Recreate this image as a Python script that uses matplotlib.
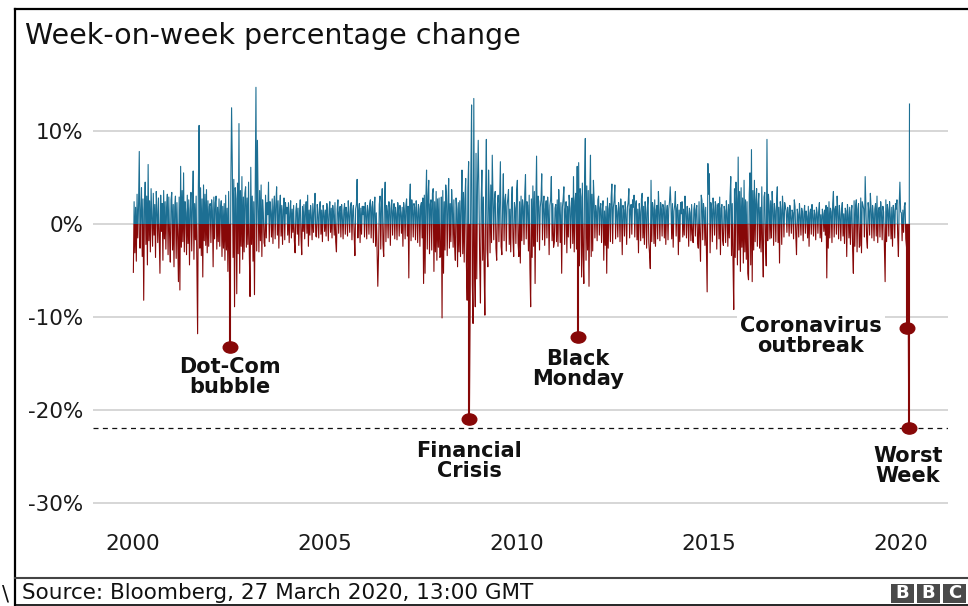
import matplotlib
matplotlib.use("Agg")
import matplotlib.pyplot as plt
from matplotlib.patches import Rectangle
from matplotlib.path import Path
import matplotlib.transforms as mtransforms
from matplotlib.lines import Line2D

plt.rcParams['font.family'] = ['DejaVu Sans']

# ---------------- data (weekly % change) ----------------
y2000 = [-5.2, 2.4, -3.1, 1.8, -4.0, 3.2, -1.5, 2.0, 7.8, -2.6, 1.2, 3.9, -3.5, 2.7, -8.2, 1.5, 4.5, -2.2, 3.0, -4.4, 6.4, -1.8, 2.5, -3.0, 3.8, 0.9, -2.4, 3.3, -1.2, 2.1, -3.6, 3.5, 1.4, -2.0, 2.8, -1.3, -5.3, 3.1, -0.8, 2.2, -3.9, 3.6, -1.6, 2.4, -2.7, 1.7, 3.2, -3.3, 2.9, -1.1, -4.1, 2.6]
y2001 = [3.4, -2.8, 2.1, -4.6, 1.9, 3.0, -3.7, 2.3, -1.4, -6.2, 2.9, -7.1, 6.2, -2.5, 3.6, -1.9, 5.5, -3.0, 2.4, 1.2, -3.3, 3.1, -2.1, 2.6, -4.4, 1.5, 3.4, -2.9, 2.0, 5.7, -3.8, 2.2, -1.7, 3.0, -5.0, -11.8, 4.1, 10.6, -2.6, 3.9, -3.4, 2.7, -5.7, 4.2, -1.8, 3.2, -2.3, 3.7, -3.1, 2.5, -2.4, 1.9]
y2002 = [2.2, -2.0, 2.6, 1.4, -4.6, 2.9, -1.6, 2.3, 3.0, -2.7, 1.8, -1.9, 2.7, -2.4, 1.6, 2.5, -3.5, 1.9, -2.6, 2.2, -3.9, 3.1, -2.8, 1.7, -5.1, 3.5, -4.0, -13.2, 4.3, 12.5, 6.2, -3.6, 4.8, -8.9, 3.9, 2.7, -7.5, 4.4, -3.2, 10.8, -5.3, 3.6, -2.4, 5.1, -3.8, 2.9, -3.0, 3.3, 4.0, -2.5, 2.8, -2.2]
y2003 = [4.5, -3.1, -7.8, 6.1, -2.2, 3.0, -4.0, 2.4, -7.6, 3.3, 14.7, -2.9, 9.0, 2.1, -3.0, 3.6, -1.8, 4.2, -3.5, 2.6, 1.2, -2.0, -2.4, 3.1, -1.5, 2.3, 1.0, 4.5, -1.9, 2.4, 1.3, -1.4, 2.7, -2.1, 1.8, 3.0, -1.6, 2.2, 4.0, -1.2, 2.5, -2.6, 1.7, 3.1, -1.3, 2.0, -2.2, 1.5, 2.8, -1.7, 2.3, 1.1]
y2004 = [1.8, -1.2, 2.3, -2.0, 1.1, 2.5, -1.5, 1.6, -0.9, 2.0, -1.8, -3.1, 1.4, 2.2, -1.1, 1.7, -2.3, 1.2, 2.6, -1.4, -3.3, 1.9, -0.8, 2.1, -1.6, 1.3, 2.4, -1.0, 3.1, -2.4, 1.5, -1.2, 2.0, 0.9, -1.7, 2.2, -0.9, 1.6, 3.3, -1.3, -1.4, 2.1, 1.0, -1.5, 1.8, 2.4, -1.1, 1.5, -1.9, 2.0, 1.2, -0.8]
y2005 = [1.5, -1.3, 2.2, 1.0, -1.8, 1.4, 2.4, -0.9, 1.7, -1.5, 2.0, 1.1, -1.2, 2.3, -1.9, -3.0, 1.6, 2.6, -1.0, 1.3, 1.9, -1.4, 2.1, 0.8, -1.6, 1.5, 2.2, -1.1, 1.8, 1.2, -1.3, 2.5, 1.0, -0.9, 1.9, 2.3, -1.7, 1.4, 2.0, -1.2, -3.4, 1.6, 2.1, 4.8, -1.5, 1.3, 2.2, -2.0, 1.7, -1.1, 1.9, 1.0]
y2006 = [1.9, -1.4, 2.3, 1.2, -1.6, 2.0, 1.4, -1.1, 2.2, 2.6, -1.5, 1.8, 2.4, -2.0, 1.6, 2.9, -2.4, 1.2, -3.0, -6.7, -3.3, 2.1, 3.0, -2.7, 1.8, 3.8, -2.2, -3.5, 2.5, 4.5, -1.9, 2.0, 1.3, -1.5, 2.4, 1.7, -2.3, 1.9, 2.6, -1.2, 1.4, 2.2, -1.6, 1.8, 1.1, -1.7, 2.3, 1.5, -1.3, 2.0, 1.2, -1.0]
y2007 = [1.8, -2.4, 2.3, 1.4, -1.6, 2.0, 2.7, -1.3, 1.9, -5.8, 2.4, 4.3, -1.8, 2.6, 1.5, -1.4, 2.2, 1.8, -1.7, 2.5, 1.2, -2.0, 2.1, 1.6, -2.4, 1.9, 2.3, -1.5, 2.8, -6.4, 3.1, -5.3, 2.4, 5.8, -2.7, 3.0, 4.7, -3.2, 2.1, 2.6, -2.8, 3.3, 3.8, -5.1, 2.4, -3.0, 3.5, -3.9, 2.7, -2.5, 2.8, -3.6]
y2008 = [-3.5, 2.9, -10.1, 3.6, -5.3, 2.4, -2.8, 4.2, 3.1, -3.4, 2.0, 4.9, -2.6, 2.2, -1.9, 3.7, 1.8, -2.5, 2.6, -2.1, -3.9, 2.8, 1.6, -4.6, 2.3, -3.0, 2.5, -3.5, 2.0, 5.8, -3.2, 3.4, -4.1, 2.7, 4.9, -4.4, -8.2, 3.9, 6.7, -21.0, -9.9, 5.2, 12.8, -6.5, -10.7, 13.5, -4.8, -8.9, 7.6, -5.9, 4.4, 9.0]
y2009 = [3.1, -4.2, -8.5, 2.6, 5.8, -3.9, 2.9, -5.1, -9.8, 3.4, 9.1, -2.7, -4.6, 5.8, 2.4, -3.1, 4.2, -2.0, 7.4, 3.0, -1.7, 2.8, 3.5, -2.6, -3.9, 2.2, 3.1, -1.9, 2.6, 6.7, -2.4, -3.3, 2.0, 5.4, -1.8, 2.5, 3.2, -2.9, 1.9, 2.7, 3.7, -2.2, 1.6, -3.0, 2.4, 4.0, -1.5, -3.5, 2.3, 1.7, -2.1, 3.7]
y2010 = [4.7, -2.1, -3.5, 2.4, -4.2, 3.0, -1.8, 2.6, 1.9, -2.2, 3.3, 5.3, -1.6, 2.4, 2.0, -2.9, 3.1, -4.8, -8.9, 2.7, -3.6, 4.1, -2.4, 3.5, -6.4, 2.2, 7.3, -1.9, 3.0, 2.4, -2.8, 1.8, 2.6, 5.4, -1.7, 2.1, 3.0, -2.3, 1.6, 2.5, -1.5, 2.9, 1.4, -3.3, 2.0, 2.6, 5.1, -1.8, 2.2, -2.5, -2.0, 1.7]
y2011 = [2.1, -1.9, 2.6, -2.4, 3.7, 1.5, -2.0, 2.3, -5.3, 1.8, 2.7, 4.0, -2.2, 1.6, 2.4, -3.1, 1.9, -1.4, 3.1, 2.2, -2.6, 1.7, 2.8, -2.1, 5.1, -3.0, 2.5, 3.3, -2.7, 6.2, -12.2, 6.6, -4.5, 3.8, 2.9, -5.7, 4.4, -3.4, -6.4, 5.0, 9.2, -3.9, 4.1, -2.8, 3.6, -6.7, 2.7, 7.4, -3.5, 3.2, -2.9, 4.7]
y2012 = [2.4, -1.5, 2.0, 1.3, -1.8, 2.6, 3.0, -1.2, 1.7, 2.2, -2.0, 1.5, 2.5, -3.9, 1.4, -2.3, 1.9, -5.3, 2.8, -2.6, 1.6, 2.2, -1.9, 2.9, 4.3, -2.1, 1.8, 2.5, 4.2, -1.6, 2.0, 1.3, -1.4, 2.3, 1.7, -1.9, 2.7, 1.2, -3.3, 2.0, 1.5, -1.3, 2.4, 1.0, -2.2, 1.8, 2.3, 3.8, -1.5, 1.6, 2.1, -1.1]
y2013 = [2.6, 1.8, 3.1, -1.4, 2.0, 2.5, -1.7, 1.6, -3.1, 2.2, 1.3, -1.8, 2.7, 3.3, -1.5, 1.9, -2.2, 2.4, 1.2, -2.6, 1.8, 2.9, -2.0, -3.2, -4.8, 4.7, -1.9, 2.3, 1.7, -2.1, 2.6, -2.4, 1.5, 2.0, -1.6, 3.5, 1.4, -1.8, 2.3, 1.6, -1.3, 2.1, 1.8, -1.5, 2.5, -2.2, 1.2, 2.0, -1.7, 1.6, 2.4, 4.0]
y2014 = [1.9, -1.6, 2.2, -2.5, 1.4, 2.0, 3.5, -1.3, 1.7, 2.1, -3.3, 1.5, -1.9, 2.3, 1.1, 2.4, -1.4, 1.6, -1.2, 3.0, 1.3, -1.5, 1.9, 1.0, -2.4, 1.7, 1.2, -1.8, 2.1, -1.1, -2.0, 1.6, 2.2, -1.3, 1.5, 2.0, -1.9, -2.6, 2.4, -1.5, -4.0, 3.1, 2.5, -1.7, 2.2, 1.4, -2.3, 1.8, -2.8, -7.3, 6.5, 3.2]
y2015 = [5.4, -3.1, 2.3, 1.6, -1.9, 2.8, 1.5, -1.2, 2.4, 2.0, -2.7, 1.8, 2.2, -1.6, 2.9, -3.3, 1.7, 2.1, -1.8, -2.3, 1.9, 1.4, -2.0, 2.5, 1.2, -2.4, 2.1, -1.5, 3.0, 5.1, -3.4, 2.2, -4.0, -9.2, 3.8, -3.6, 4.5, 2.7, -4.4, 7.2, -2.8, 3.5, -5.1, 3.9, -2.5, 2.8, -4.2, 4.7, -3.0, 2.6, -3.8, 2.4]
y2016 = [-5.3, -6.0, 3.2, 5.5, -4.4, 8.0, -6.2, 3.6, -2.8, 4.7, -1.9, 2.6, 3.8, -2.4, 2.1, 3.3, -2.6, 1.8, -3.0, 4.0, -2.2, -5.7, 2.9, 3.4, -2.1, -4.5, 9.1, -1.8, 3.2, 2.0, -1.6, 2.5, -1.5, 3.5, 1.7, -2.3, 2.2, 1.4, -1.9, 2.6, 4.0, -2.0, 1.8, -4.2, 2.4, 1.5, -2.2, 3.0, 1.6, -1.4, 2.3, 1.8]
y2017 = [1.4, -0.9, 1.8, 1.1, -1.3, 2.0, 0.8, -1.0, 1.5, 1.2, -1.6, 2.6, 1.9, -1.1, -3.3, 1.6, 1.0, -1.4, 2.2, 0.9, -1.2, 1.7, 1.3, -1.8, 1.1, 2.0, -1.0, 1.4, 0.8, -1.5, 1.9, -2.4, 1.2, 1.6, -1.1, 2.1, 0.9, -1.3, 1.5, 1.0, -1.7, 1.8, 1.2, -1.0, 1.4, 2.3, -1.5, 1.0, -1.9, 1.6, 1.1, -0.8]
y2018 = [1.5, -1.2, 2.0, -5.8, 1.8, -2.6, 2.4, -1.5, 1.7, 1.3, -2.0, 2.2, 3.5, -1.4, 1.6, 1.9, -1.1, 3.0, 1.2, -1.6, 2.0, 1.0, -1.8, 1.5, 2.3, -1.3, 1.1, -2.1, 1.7, 1.4, -3.5, 2.1, 1.0, -1.5, 1.8, -2.2, 1.3, 2.0, -2.8, -5.3, 2.5, -2.4, 1.9, 2.6, -3.0, 1.6, 2.2, -2.5, -2.3, 2.8, -3.1, 2.4]
y2019 = [2.0, 1.6, -1.4, 5.1, 1.9, -1.6, -2.6, 2.3, 1.4, -1.2, 3.3, 1.7, -1.5, 2.0, 1.1, -1.8, 1.6, 2.2, -1.3, 3.0, -2.0, 1.5, 1.8, -1.4, 2.4, 1.2, -1.7, 1.9, 1.3, -2.2, -6.2, 2.6, -1.9, 2.1, 1.5, -1.3, 2.4, 1.0, -1.6, 1.8, -2.4, 2.0, 1.4, -1.5, 2.2, 1.6, 2.6, -1.2, -3.5, 1.9, 4.5, 1.3]
y2020 = [1.2, -1.8, 1.5, -0.9, 1.9, 2.3, -1.6, -2.5, -11.2, -4.0, -21.9, 12.9]

years = list(range(2000, 2021))
series = [y2000, y2001, y2002, y2003, y2004, y2005, y2006, y2007, y2008, y2009,
          y2010, y2011, y2012, y2013, y2014, y2015, y2016, y2017, y2018, y2019, y2020]

# annotated weeks: (label, year, week index)
annotations = [("Dot-Com\nbubble", 2002, 27),
               ("Financial\nCrisis", 2008, 39),
               ("Black\nMonday", 2011, 30),
               ("Coronavirus\noutbreak", 2020, 8),
               ("Worst\nWeek", 2020, 10)]

y_ticks = [-30, -20, -10, 0, 10]
y_tick_labels = ["-30%", "-20%", "-10%", "0%", "10%"]
x_ticks = [2000, 2005, 2010, 2015, 2020]
x_tick_labels = ["2000", "2005", "2010", "2015", "2020"]

title = "Week-on-week percentage change"
source = "Source: Bloomberg, 27 March 2020, 13:00 GMT"

BLUE = "#1d6f93"
RED = "#870808"
GRID = "#cccccc"

# ---------------- build positions ----------------
xs, vs = [], []
for yr, vals in zip(years, series):
    for k, v in enumerate(vals):
        xs.append(yr + (k + 0.5) / 52.0)
        vs.append(v)

def week_x(yr, k):
    return yr + (k + 0.5) / 52.0

def week_v(yr, k):
    return series[years.index(yr)][k]

# ---------------- figure ----------------
W, H = 968, 606
fig = plt.figure(figsize=(W / 100, H / 100), dpi=100)
fig.patch.set_facecolor("white")

ax_left, ax_right, ax_top, ax_bottom = 93, 948, 80, 520
ax = fig.add_axes([ax_left / W, 1 - ax_bottom / H, (ax_right - ax_left) / W, (ax_bottom - ax_top) / H])

px_per_year = 38.4
x0_px = 133
ax.set_xlim(2000 - (x0_px - ax_left) / px_per_year, 2000 + (ax_right - x0_px) / px_per_year)
px_per_pct = 9.3
zero_px = 224
ax.set_ylim((zero_px - ax_bottom) / px_per_pct, (zero_px - ax_top) / px_per_pct)

for s in ax.spines.values():
    s.set_visible(False)
ax.set_yticks(y_ticks)
ax.set_yticklabels(y_tick_labels)
ax.set_xticks(x_ticks)
ax.set_xticklabels(x_tick_labels)
ax.tick_params(axis='both', length=0, labelsize=15.5, colors="#1a1a1a")
ax.tick_params(axis='y', pad=7)
ax.tick_params(axis='x', pad=10)
ax.yaxis.grid(True, color=GRID, lw=1.1, zorder=0)
ax.xaxis.grid(False)
ax.set_axisbelow(True)

# data lines, blue above zero, red below
big = 1000
line_pos, = ax.plot(xs, vs, color=BLUE, lw=0.8, zorder=3)
line_neg, = ax.plot(xs, vs, color=RED, lw=0.8, zorder=3)
line_pos.set_clip_path(Rectangle((1900, 0), big, big, transform=ax.transData))
line_neg.set_clip_path(Rectangle((1900, -big), big, big, transform=ax.transData))

# worst week dashed reference
worst = min(vs)
ax.axhline(worst, color="#111111", lw=0.9, ls=(0, (4, 3.5)), zorder=2)

# highlighted stems and dots
ell = Path.unit_circle().transformed(mtransforms.Affine2D().scale(1.3, 1.0))
dx = [week_x(y, k) for _, y, k in annotations]
dy = [week_v(y, k) for _, y, k in annotations]
ax.vlines(dx, 0, dy, color=RED, lw=1.5, zorder=4)
ax.plot(dx, dy, ls='none', marker=ell, ms=10.5, color=RED, zorder=5)

# annotation labels (pixel-based centres converted to data)
def px_to_data(xp, yp):
    return 2000 + (xp - x0_px) / px_per_year, (zero_px - yp) / px_per_pct

label_pos = [(230, 377), (469, 461), (578, 369), (811, 336), (908, 466)]
for (txt, _, _), (xp, yp) in zip(annotations, label_pos):
    tx, ty = px_to_data(xp, yp)
    kw = {}
    if txt.startswith("Corona"):
        kw["bbox"] = dict(boxstyle="square,pad=0.15", fc="white", ec="none")
    ax.text(tx, ty, txt, ha='center', va='center', fontsize=15, fontweight='bold',
            color="#111111", linespacing=1.05, zorder=6, **kw)

# title & footer
fig.text(25 / W, 1 - 44.5 / H, title, fontsize=20.5, color="#111111", va='baseline', ha='left')
fig.text(22 / W, 1 - 599 / H, source, fontsize=15.5, color="#111111", va='baseline', ha='left')
fig.text(2 / W, 1 - 601 / H, "\\", fontsize=15, color="#111111", va='baseline', ha='left')

# frame lines
fig.add_artist(Line2D([15.5 / W, 15.5 / W], [1 - 9 / H, 0], transform=fig.transFigure, color="black", lw=1.6))
fig.add_artist(Line2D([15 / W, 1], [1 - 9 / H, 1 - 9 / H], transform=fig.transFigure, color="black", lw=1.6))
fig.add_artist(Line2D([15 / W, 1], [1 - 578 / H, 1 - 578 / H], transform=fig.transFigure, color="#444444", lw=1.5))
fig.add_artist(Line2D([15 / W, 1], [1 - 605 / H, 1 - 605 / H], transform=fig.transFigure, color="black", lw=1.2))

# BBC logo blocks
for i, letter in enumerate("BBC"):
    bx = 891 + i * 26
    fig.add_artist(Rectangle((bx / W, 1 - 603 / H), 23 / W, 19 / H, transform=fig.transFigure,
                             fc="#4a4a4a", ec="none"))
    fig.text((bx + 11.5) / W, 1 - 593.5 / H, letter, fontsize=13, fontweight='bold', color="white",
             ha='center', va='center')

fig.savefig("out.png", dpi=100, facecolor="white")
